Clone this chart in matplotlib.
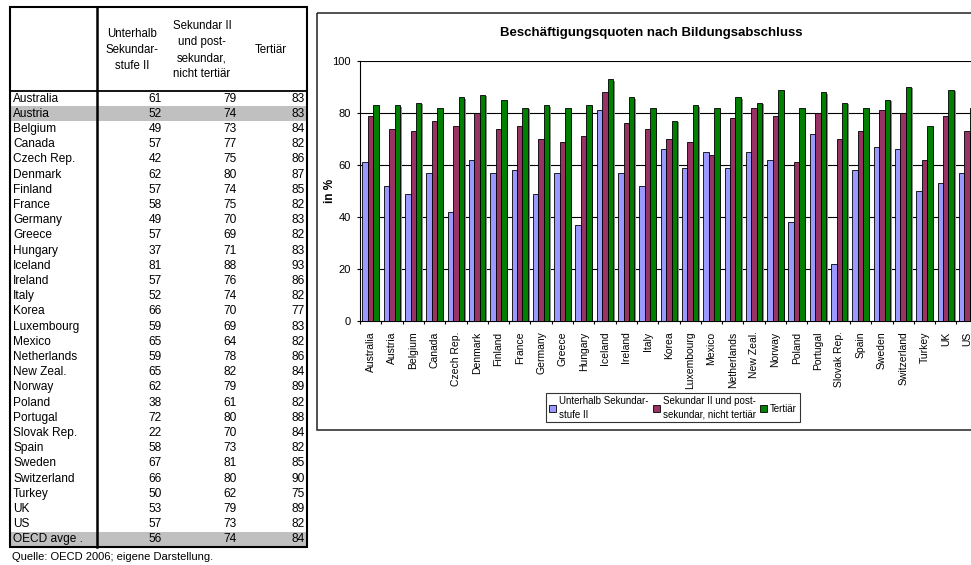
import matplotlib
matplotlib.use("Agg")
import matplotlib.pyplot as plt
import matplotlib.patheffects as pe
from matplotlib.patches import Rectangle
import numpy as np

plt.rcParams['font.family'] = ['Liberation Sans', 'DejaVu Sans']

countries = ["Australia", "Austria", "Belgium", "Canada", "Czech Rep.", "Denmark",
             "Finland", "France", "Germany", "Greece", "Hungary", "Iceland",
             "Ireland", "Italy", "Korea", "Luxembourg", "Mexico", "Netherlands",
             "New Zeal.", "Norway", "Poland", "Portugal", "Slovak Rep.", "Spain",
             "Sweden", "Switzerland", "Turkey", "UK", "US"]
below_sec2 = [61, 52, 49, 57, 42, 62, 57, 58, 49, 57, 37, 81, 57, 52, 66,
              59, 65, 59, 65, 62, 38, 72, 22, 58, 67, 66, 50, 53, 57]
sec2_post = [79, 74, 73, 77, 75, 80, 74, 75, 70, 69, 71, 88, 76, 74, 70,
             69, 64, 78, 82, 79, 61, 80, 70, 73, 81, 80, 62, 79, 73]
tertiary = [83, 83, 84, 82, 86, 87, 85, 82, 83, 82, 83, 93, 86, 82, 77,
            83, 82, 86, 84, 89, 82, 88, 84, 82, 85, 90, 75, 89, 82]
oecd_label = "OECD avge ."
oecd_values = [56, 74, 84]

table_headers = ["Unterhalb\nSekundar-\nstufe II",
                 "Sekundar II\nund post-\nsekundar,\nnicht tertiär",
                 "Tertiär"]
legend_labels = ["Unterhalb Sekundar-\nstufe II",
                 "Sekundar II und post-\nsekundar, nicht tertiär",
                 "Tertiär"]
colors = ["#9999FF", "#993366", "#008000"]
title = "Beschäftigungsquoten nach Bildungsabschluss"
source = "Quelle: OECD 2006; eigene Darstellung."

W, H = 971, 565
fig = plt.figure(figsize=(W / 100, H / 100), dpi=100)

# background layer in pixel coords: table + chart frame
bg = fig.add_axes([0, 0, 1, 1])
bg.set_xlim(0, W)
bg.set_ylim(H, 0)
bg.axis("off")

# chart area frame (runs off the right edge)
bg.add_patch(Rectangle((317, 13), 700, 417, fill=False, ec="#222222", lw=1.1))

# --- table ---
tx0, tx1, ty0, ty1 = 10, 307, 7, 547
head_y = 91
row_h = (ty1 - head_y) / (len(countries) + 1)
rows = list(zip(countries, below_sec2, sec2_post, tertiary))
rows.append((oecd_label, *oecd_values))

for i, (name, a, b, c) in enumerate(rows):
    top = head_y + i * row_h
    if i == 1 or i == len(rows) - 1:
        bg.add_patch(Rectangle((tx0, top), tx1 - tx0, row_h, color="#c0c0c0", lw=0))
    yc = top + row_h / 2
    bg.text(13, yc, name, fontsize=8.6, ha="left", va="center")
    for xr, v in zip([162, 237, 305], [a, b, c]):
        bg.text(xr, yc, str(v), fontsize=8.6, ha="right", va="center")

for xc, h in zip([132, 202, 271], table_headers):
    bg.text(xc, 50, h, fontsize=8.3, ha="center", va="center", linespacing=1.45)

bg.add_patch(Rectangle((tx0, ty0), tx1 - tx0, ty1 - ty0, fill=False, ec="black", lw=1.5))
bg.plot([97, 97], [ty0, ty1], color="black", lw=1.8)
bg.plot([tx0, tx1], [head_y, head_y], color="black", lw=1.3)
bg.text(12, 557, source, fontsize=8, ha="left", va="center")

# --- bar chart ---
n = len(countries)
ax_left, ax_right, ax_top, ax_bot = 360, 360 + n * 21.3, 61, 321
ax = fig.add_axes([ax_left / W, 1 - ax_bot / H, (ax_right - ax_left) / W, (ax_bot - ax_top) / H])
ax.set_zorder(2)

x = np.arange(n)
bw = 0.256
shadow = [pe.SimplePatchShadow(offset=(1.2, -1.0), shadow_rgbFace="0.55", alpha=1.0), pe.Normal()]
for k, (vals, col) in enumerate(zip([below_sec2, sec2_post, tertiary], colors)):
    ax.bar(x + (k - 1) * bw, vals, width=bw, color=col, edgecolor="black",
           linewidth=0.6, path_effects=shadow, zorder=3)

ax.set_xlim(-0.5, n - 0.5)
ax.set_ylim(0, 100)
ax.set_yticks(np.arange(0, 101, 20))
ax.yaxis.grid(True, color="black", lw=0.8)
ax.set_axisbelow(True)
for s in ["top", "right"]:
    ax.spines[s].set_visible(False)
ax.spines["left"].set_linewidth(0.8)
ax.spines["bottom"].set_linewidth(0.8)

ax.set_xticks(np.arange(-0.5, n, 1.0))
ax.set_xticklabels([])
ax.set_xticks(x, minor=True)
ax.set_xticklabels(countries, minor=True, rotation=90, fontsize=7.5, va="top", ha="center")
ax.tick_params(axis="x", which="major", length=2.5, width=0.8)
ax.tick_params(axis="x", which="minor", length=0, pad=7.5)
ax.tick_params(axis="y", length=2.2, width=0.8, pad=4.3, labelsize=8)

fig.text(330 / W, 1 - 191 / H, "in %", rotation=90, fontsize=8.5, fontweight="bold",
         ha="center", va="center")
fig.text(651 / W, 1 - 33 / H, title, fontsize=9.5, fontweight="bold", ha="center", va="center")

handles = [Rectangle((0, 0), 1, 1, fc=c, ec="black", lw=0.6) for c in colors]
leg = fig.legend(handles, legend_labels, ncol=3, loc="upper left",
                 bbox_to_anchor=(546 / W, 1 - 393 / H), fontsize=7.0,
                 frameon=True, fancybox=False, edgecolor="black",
                 handlelength=0.75, handleheight=0.75, handletextpad=0.3,
                 columnspacing=0.4, borderpad=0.3, borderaxespad=0)
leg.get_frame().set_linewidth(0.8)
for t in leg.get_texts():
    t.set_linespacing(1.45)

fig.savefig("out.png", dpi=100)
